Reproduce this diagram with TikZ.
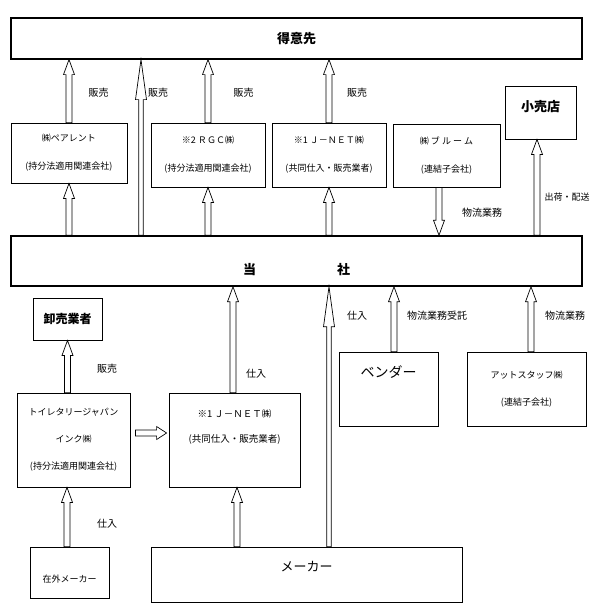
\documentclass[tikz,border=0pt]{standalone}
\usepackage{fontspec}
\setmainfont{Noto Sans CJK JP}
\usepackage{tikz}
\usetikzlibrary{calc}

\begin{document}
\begin{tikzpicture}[x=1pt,y=-1pt,
  box/.style 2 args={draw,line width=0.8pt,minimum width=#1,minimum height=#2,inner sep=0pt,align=center,font=\fontsize{9}{28}\selectfont},
  big/.style={font=\fontsize{13}{16}\selectfont\bfseries},
  lbl/.style={font=\fontsize{10}{12}\selectfont},
  blk/.style n args={3}{to path={let \p1=(\tikztostart),\p2=(\tikztotarget),
    \n1={veclen(\x2-\x1,\y2-\y1)},\n2={atan2(\y2-\y1,\x2-\x1)},\n3={\n1-#3} in
    [shift={(\p1)},rotate=\n2] (0,-#1pt) -- (\n3,-#1pt) -- (\n3,-#2pt) -- (\n1,0pt)
    -- (\n3,#2pt) -- (\n3,#1pt) -- (0,#1pt) -- cycle}},
  arr/.style={draw,line width=0.7pt,blk={3}{5.5}{15}},
  longarr/.style={draw,line width=0.7pt,blk={2.2}{5.5}{40}}]
 \useasboundingbox (0,0) rectangle (603,603);

 \node[box={571}{41},big,line width=1.2pt] (tok) at (296.5,38.5) {得意先};
 \node[box={116}{60}] (pa) at (69,153) {㈱ペアレント\\(持分法適用関連会社)};
 \node[box={114}{64}] (rgc) at (208,155) {※2 ＲＧＣ㈱\\(持分法適用関連会社)};
 \node[box={114}{64}] (jn1) at (329,155) {※1 Ｊ－ＮＥＴ㈱\\(共同仕入・販売業者)};
 \node[box={107}{63}] (bl) at (446.5,155.5) {㈱\ ブ\ ル\ ー\ ム\\(連結子会社)};
 \node[box={71}{53},label={[big,yshift=5.5pt]center:小売店}] (sh) at (540.5,112.5) {};
 \node[box={571}{50},line width=1.5pt,label={[big,yshift=-9pt]center:当\hspace{81pt}社}] (ts) at (296.5,261) {};
 \node[box={69}{42},font=\fontsize{12}{14}\selectfont\bfseries] (or) at (67.5,319) {卸売業者};
 \node[box={113}{94},font=\fontsize{9}{27}\selectfont] (tj) at (73.5,440) {トイレタリージャパン\\インク㈱\\(持分法適用関連会社)};
 \node[box={131}{94},label={[align=center,font=\fontsize{9.5}{25}\selectfont,yshift=13.5pt]center:※1 Ｊ－ＮＥＴ㈱\\(共同仕入・販売業者)}] (jn2) at (234.5,440) {};
 \node[box={99}{74},label={[font=\fontsize{14}{16}\selectfont,yshift=17pt]center:ベンダー}] (ve) at (388.5,389) {};
 \node[box={119}{74},font=\fontsize{9}{27}\selectfont] (as) at (526.5,389) {アットスタッフ㈱\\(連結子会社)};
 \node[box={79}{51},label={[font=\fontsize{9}{11}\selectfont,yshift=-6.5pt]center:在外メーカー}] (zg) at (69.5,572.5) {};
 \node[box={311}{55},label={[font=\fontsize{13}{16}\selectfont,yshift=7.5pt]center:メーカー}] (mk) at (306.5,574.5) {};
 \coordinate (sale) at (141,150);

 \draw[arr] (pa.north) to (pa.north |- tok.south);
 \draw[longarr] (sale |- ts.north) to (sale |- tok.south);
 \draw[arr] (rgc.north) to (rgc.north |- tok.south);
 \draw[arr] (jn1.north) to (jn1.north |- tok.south);
 \draw[arr] (pa.south |- ts.north) to (pa.south);
 \draw[arr] (rgc.south |- ts.north) to (rgc.south);
 \draw[arr] (jn1.south |- ts.north) to (jn1.south);
 \draw[arr] ([xshift=-7.5pt]bl.south) to ([xshift=-7.5pt]bl.south |- ts.north);
 \draw[arr] ([xshift=-3.5pt]sh.south |- ts.north) to ([xshift=-3.5pt]sh.south);
 \draw[arr] (or.south |- tj.north) to (or.south);
 \draw[arr,blk={3}{6.5}{10}] ([shift={(5,-7)}]tj.east) to ([shift={(-2,-7)}]jn2.west);
 \draw[arr] ([xshift=-1.5pt]jn2.north) to ([xshift=-1.5pt]jn2.north |- ts.south);
 \draw[arr] ([xshift=-2.5pt]zg.north) to ([xshift=-2.5pt]zg.north |- tj.south);
 \draw[arr] ([xshift=2.5pt]jn2.south |- mk.north) to ([xshift=2.5pt]jn2.south);
 \draw[longarr] (jn1.south |- mk.north) to (jn1.south |- ts.south);
 \draw[arr] ([xshift=5.5pt]ve.north) to ([xshift=5.5pt]ve.north |- ts.south);
 \draw[arr] ([xshift=4.5pt]as.north) to ([xshift=4.5pt]as.north |- ts.south);

 \node[lbl] (hb1) at (98.5,93) {販売};
 \node[lbl] (hb2) at (158,93) {販売};
 \node[lbl] (hb3) at (243.5,93) {販売};
 \node[lbl] (hb4) at (357,93) {販売};
 \node[lbl] (bt1) at (482,213) {物流業務};
 \node[font=\fontsize{9}{11}\selectfont] (sk) at (567,197) {出荷・配送};
 \node[lbl] (hb5) at (107,369) {販売};
 \node[lbl] (sr1) at (256,374) {仕入};
 \node[lbl] (sr2) at (357,316) {仕入};
 \node[lbl] (bt2) at (437,316) {物流業務受託};
 \node[lbl] (bt3) at (565,316) {物流業務};
 \node[lbl] (sr3) at (107,524) {仕入};
\end{tikzpicture}
\end{document}
